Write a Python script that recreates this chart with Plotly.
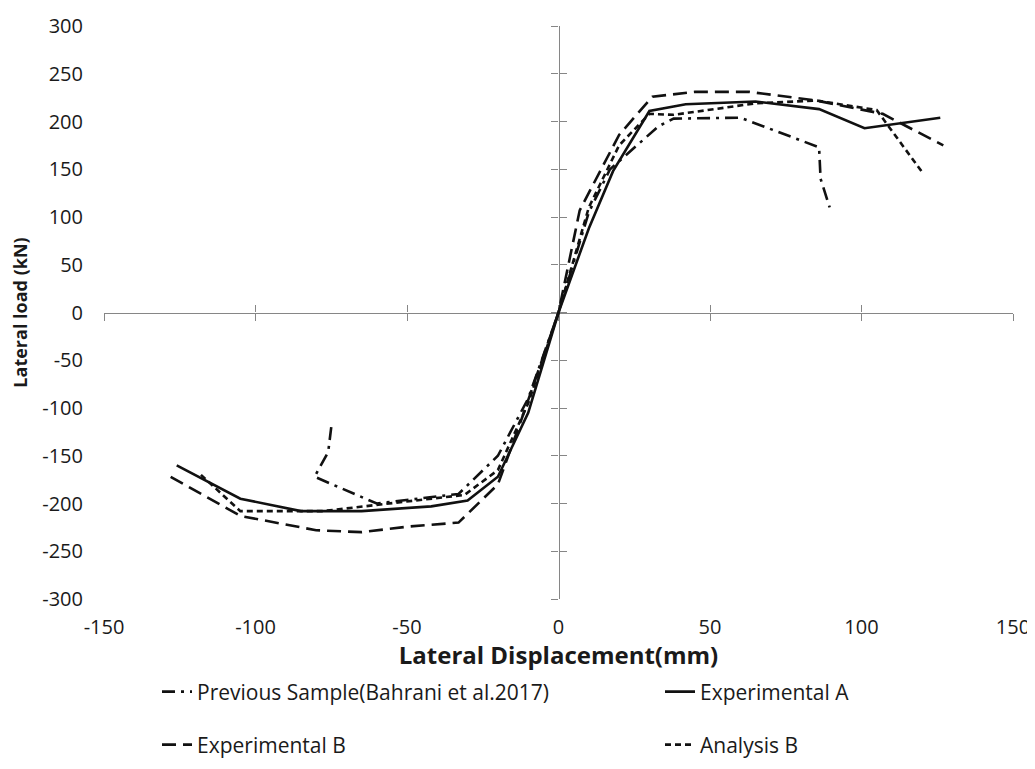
import plotly.graph_objects as go

# ── Data (displacement mm, load kN) ──────────────────────────────────────────

PREV_X = [-75, -76, -80.5, -60, -33, -20, -10, 0, 10, 17, 33, 38, 60, 86, 86.5, 89.5]
PREV_Y = [-120, -146, -172, -200, -190, -150, -90, 0, 105, 150, 195, 203, 204, 173, 140, 110]

EXP_A_X = [-126, -105, -85, -65, -42, -30, -20, -10, 0, 10, 18, 30, 42, 65, 86, 101, 126]
EXP_A_Y = [-160, -195, -208, -208, -203, -197, -172, -105, 0, 88, 148, 211, 218, 221, 213, 193, 204]

EXP_B_X = [-128, -105, -80, -65, -49, -33, -20, -12, 0, 7, 20, 31, 45, 63, 85, 107, 127]
EXP_B_Y = [-172, -213, -228, -230, -224, -220, -180, -110, 0, 107, 186, 226, 231, 231, 222, 208, 175]

ANA_B_X = [-118, -105, -78, -50, -31, -20, -10, 0, 10, 20, 30, 38, 65, 85, 105, 120]
ANA_B_Y = [-170, -208, -208, -198, -191, -165, -95, 0, 110, 175, 208, 207, 219, 222, 212, 147]

X_TICKS = [-150, -100, -50, 0, 50, 100, 150]
X_LABELS = ["-150", "-100", "-50", "0", "50", "100", "150"]
Y_TICKS = [-300, -250, -200, -150, -100, -50, 0, 50, 100, 150, 200, 250, 300]
Y_LABELS = ["-300", "-250", "-200", "-150", "-100", "-50", "0",
            "50", "100", "150", "200", "250", "300"]

FONT = "Open Sans, sans-serif"
AXIS_GREY = "#868686"
INK = "#111111"
TEXT = "#1a1a1a"

fig = go.Figure()

# name, x, y, dash, legend slot
series = [
    ("Previous Sample(Bahrani et al.2017)", PREV_X, PREV_Y, "13px,6px,3px,6px", "legend"),
    ("Experimental A", EXP_A_X, EXP_A_Y, "solid", "legend2"),
    ("Experimental B", EXP_B_X, EXP_B_Y, "14px,7px", "legend3"),
    ("Analysis B", ANA_B_X, ANA_B_Y, "6px,4px", "legend4"),
]
for name, xs, ys, dash, leg in series:
    fig.add_trace(go.Scatter(
        x=xs, y=ys, name=name, mode="lines",
        line=dict(color=INK, width=2.6, dash=dash),
        legend=leg, showlegend=True,
    ))

# empty traces so the crossing axes get drawn
for xa, ya in [("x2", "y"), ("x3", "y"), ("x", "y2"), ("x", "y3")]:
    fig.add_trace(go.Scatter(x=[], y=[], xaxis=xa, yaxis=ya,
                             showlegend=False, hoverinfo="skip"))

# labels sit at the low edge, the drawn axes cross at zero
cross_x = dict(overlaying="x", anchor="free", position=0.5, range=[-150, 150],
               tickvals=X_TICKS, showticklabels=False, showgrid=False, zeroline=False,
               showline=True, linecolor=AXIS_GREY, linewidth=1.3,
               ticklen=7, tickcolor=AXIS_GREY, tickwidth=1.3, layer="below traces")
cross_y = dict(overlaying="y", anchor="free", position=0.5, range=[-300, 300],
               tickvals=Y_TICKS, showticklabels=False, showgrid=False, zeroline=False,
               showline=True, linecolor=AXIS_GREY, linewidth=1.3,
               ticklen=7, tickcolor=AXIS_GREY, tickwidth=1.3, layer="below traces")


def one_legend(x_px, y_px):
    return dict(orientation="h", xref="container", yref="container",
                x=x_px / 1035, y=1 - y_px / 769, yanchor="middle",
                font=dict(size=21, family=FONT, color=TEXT), bgcolor="rgba(0,0,0,0)")


# the page puts the figure 8px in from the top-left corner, margins allow for it
fig.update_layout(
    width=1035, height=769,
    paper_bgcolor="white", plot_bgcolor="white",
    margin=dict(l=96, r=30, t=18, b=178, autoexpand=False),
    font=dict(family=FONT, color=TEXT, size=20),
    showlegend=True,
    xaxis=dict(
        range=[-150, 150], tickvals=X_TICKS, ticktext=X_LABELS, automargin=True,
        showgrid=False, zeroline=False, showline=False, ticks="",
        ticklabelstandoff=14, tickfont=dict(size=20, family=FONT, color=TEXT),
        title=dict(text="<b>Lateral Displacement(mm)</b>",
                   font=dict(size=24, family=FONT, color=TEXT), standoff=12),
    ),
    yaxis=dict(
        range=[-300, 300], tickvals=Y_TICKS, ticktext=Y_LABELS, automargin=True,
        showgrid=False, zeroline=False, showline=False, ticks="",
        ticklabelstandoff=20, tickfont=dict(size=20, family=FONT, color=TEXT),
        title=dict(text="<b>Lateral load (kN)</b>",
                   font=dict(size=18, family=FONT, color=TEXT), standoff=14),
    ),
    xaxis2=dict(cross_x, ticks="outside"),
    xaxis3=dict(cross_x, ticks="inside"),
    yaxis2=dict(cross_y, ticks="outside"),
    yaxis3=dict(cross_y, ticks="inside"),
    legend=one_legend(149, 684),
    legend2=one_legend(652, 684),
    legend3=one_legend(149, 737),
    legend4=one_legend(652, 737),
)

fig.write_html("out.html")
